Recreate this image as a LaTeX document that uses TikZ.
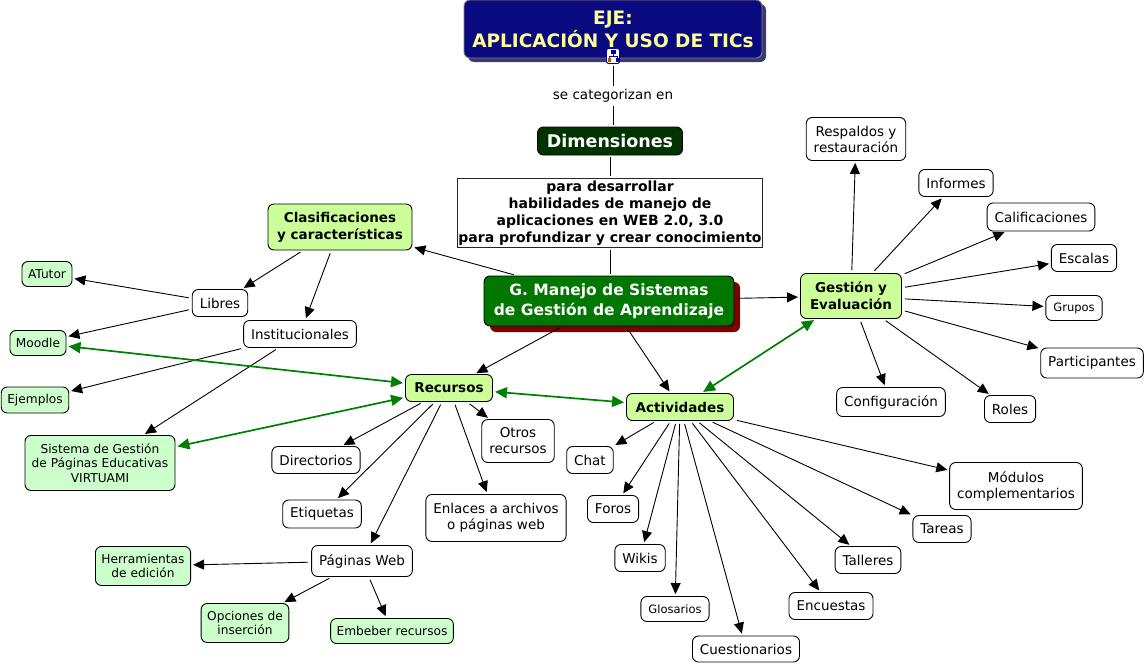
\documentclass[tikz,border=0pt]{standalone}
\usepackage{fontspec}
\setmainfont{DejaVu Sans}
\usetikzlibrary{arrows.meta, shadows}

\definecolor{ejeblue}{HTML}{0A0A80}
\definecolor{ejeshadow}{HTML}{3A3A6E}
\definecolor{ejetext}{HTML}{FFFF99}
\definecolor{dimgreen}{HTML}{003300}
\definecolor{mangreen}{HTML}{007700}
\definecolor{manshadow}{HTML}{800000}
\definecolor{keygreen}{HTML}{CCFF99}
\definecolor{leafgreen}{HTML}{CCFFCC}
\definecolor{linkgreen}{HTML}{008000}

\begin{document}
\begin{tikzpicture}[x=1pt, y=-1pt, line width=0.9pt,
  concept/.style={draw, rounded corners=6pt, fill=white, align=center, inner xsep=7.5pt, inner ysep=2pt, minimum height=27pt, font=\fontsize{13.5}{16}\selectfont},
  keyconcept/.style={concept, fill=keygreen, font=\fontsize{13.5}{17}\selectfont\bfseries},
  leaf/.style={concept, fill=leafgreen, minimum height=25pt, inner xsep=6pt, font=\fontsize{12.2}{14.5}\selectfont},
  small/.style={concept, minimum height=25pt, font=\fontsize{11.5}{13}\selectfont},
  link/.style={-{Triangle[length=11pt,width=10pt]}, shorten <=3pt, shorten >=2pt},
  crosslink/.style={{Triangle[length=12pt,width=11pt]}-{Triangle[length=12pt,width=11pt]}, linkgreen, line width=1.7pt, shorten <=2pt, shorten >=2pt},
  phrase/.style={shorten <=2pt, shorten >=2pt}
]
\useasboundingbox (0,0) rectangle (1148,664);
% Top of the map
\node[draw=black!50, fill=ejeblue, text=ejetext, rounded corners=6pt, minimum width=298pt, minimum height=58pt, align=center,
  font=\fontsize{18.5}{23}\selectfont\bfseries,
  drop shadow={shadow xshift=4pt, shadow yshift=-4pt, fill=ejeshadow, opacity=1}] (eje) at (613,29) {EJE:\\APLICACIÓN Y USO DE TICs};
\node[draw=blue!70!black, fill=white, rounded corners=1.5pt, minimum width=13pt, minimum height=15pt, inner sep=0pt, line width=0.8pt] (icon) at (613,56) {};
\fill[blue!70!black] (610.5,50) rectangle (615.5,53.5);
\draw[blue!70!black, line width=0.6pt] (613,53.5) -- (613,56) (609,56) -- (617,56) (609,56) -- (609,58) (617,56) -- (617,58);
\fill[orange!70!black] (607.5,58) rectangle (610.5,61.5);
\fill[blue!70!black] (615.5,58) rectangle (618.5,61.5);
\node[font=\fontsize{13.5}{16}\selectfont, inner sep=1pt] (cat) at (613,96) {se categorizan en};
\node[draw=black, fill=dimgreen, text=white, rounded corners=6pt, minimum width=145pt, minimum height=28pt,
  font=\fontsize{17.5}{20}\selectfont\bfseries] (dim) at (610,141) {Dimensiones};
\node[draw=black!85, line width=1.5pt, fill=white, align=center, minimum width=305pt, minimum height=69pt, inner sep=1pt,
  font=\fontsize{14}{16.8}\selectfont\bfseries] (para) at (610,213) {para desarrollar\\habilidades de manejo de\\aplicaciones en WEB 2.0, 3.0\\para profundizar y crear conocimiento};
\node[draw=black, fill=mangreen, text=white, rounded corners=6pt, minimum width=250pt, minimum height=50pt, align=center,
  font=\fontsize{15.5}{20}\selectfont\bfseries,
  drop shadow={shadow xshift=6pt, shadow yshift=-6pt, fill=manshadow, opacity=1}] (g) at (609,301) {G. Manejo de Sistemas\\de Gestión de Aprendizaje};
% Key concepts
\node[keyconcept, minimum width=144pt, minimum height=46pt] (clasif) at (340,227) {Clasificaciones\\y características};
\node[keyconcept, minimum width=87pt] (recursos) at (449,388) {Recursos};
\node[keyconcept, minimum width=107pt] (activ) at (680,407) {Actividades};
\node[keyconcept, minimum width=101pt, minimum height=45pt] (gestion) at (851,296) {Gestión y\\Evaluación};
% Clasificaciones
\node[concept] (libres) at (220,303) {Libres};
\node[concept] (inst) at (300,334) {Institucionales};
\node[leaf] (atutor) at (47,274) {ATutor};
\node[leaf] (moodle) at (38,343) {Moodle};
\node[leaf, minimum height=26pt] (ejemplos) at (35,400) {Ejemplos};
\node[leaf, minimum width=150pt, minimum height=55pt] (sistema) at (100,463) {Sistema de Gestión\\de Páginas Educativas\\VIRTUAMI};
% Recursos
\node[concept] (direct) at (316,460) {Directorios};
\node[concept, minimum height=28pt] (etiq) at (322,514) {Etiquetas};
\node[concept, minimum height=31pt] (paginas) at (362,561) {Páginas Web};
\node[concept, minimum height=43pt] (otros) at (518,441) {Otros\\recursos};
\node[concept, minimum height=47pt] (enlaces) at (496,518) {Enlaces a archivos\\o páginas web};
\node[leaf, minimum height=39pt] (herram) at (143,566) {Herramientas\\de edición};
\node[leaf, minimum height=39pt] (opciones) at (245,623) {Opciones de\\inserción};
\node[leaf] (embeber) at (392,631) {Embeber recursos};
% Actividades
\node[concept] (chat) at (590,460) {Chat};
\node[concept] (foros) at (613,509) {Foros};
\node[concept] (wikis) at (640,558) {Wikis};
\node[small] (glosarios) at (675,609) {Glosarios};
\node[concept, minimum height=26pt] (cuest) at (746,649) {Cuestionarios};
\node[concept] (encuestas) at (831,606) {Encuestas};
\node[concept] (talleres) at (868,560) {Talleres};
\node[concept] (tareas) at (942,529) {Tareas};
\node[concept, minimum height=47pt] (modulos) at (1016,486) {Módulos\\complementarios};
% Gestion y Evaluacion
\node[concept, minimum height=29pt] (config) at (891,402) {Configuración};
\node[concept] (roles) at (1010,409) {Roles};
\node[concept, minimum height=30pt] (partic) at (1092,363) {Participantes};
\node[small] (grupos) at (1074,308) {Grupos};
\node[concept] (escalas) at (1084,258) {Escalas};
\node[concept, minimum height=28pt] (calif) at (1041,217) {Calificaciones};
\node[concept] (informes) at (956,183) {Informes};
\node[concept, minimum height=43pt] (respaldos) at (856,139) {Respaldos y\\restauración};
% Linking lines without tips
\draw[phrase] (icon) -- (cat);
\draw[phrase] (cat) -- (cat |- dim.north);
\draw[phrase] (dim) -- (para);
\draw[phrase] (para) -- (para |- g.north);
% Links with tips
\draw[link] (g) -- (clasif);
\draw[link] (g) -- (gestion);
\draw[link] (g) -- (recursos);
\draw[link] (g) -- (activ);
\draw[link] (clasif) -- (libres);
\draw[link] (clasif) -- (inst);
\draw[link] (libres) -- (atutor);
\draw[link] (libres) -- (moodle);
\draw[link] (inst) -- (ejemplos);
\draw[link] (inst) -- (sistema);
\foreach \t in {direct, etiq, paginas, enlaces, otros}
  \draw[link] (recursos) -- (\t);
\foreach \t in {herram, opciones, embeber}
  \draw[link] (paginas) -- (\t);
\foreach \t in {chat, foros, wikis, glosarios, cuest, encuestas, talleres, tareas, modulos}
  \draw[link] (activ) -- (\t);
\foreach \t in {respaldos, informes, calif, escalas, grupos, partic, roles, config}
  \draw[link] (gestion) -- (\t);
% Cross links
\draw[crosslink] (moodle) -- (recursos);
\draw[crosslink] (sistema) -- (recursos);
\draw[crosslink] (recursos) -- (activ);
\draw[crosslink] (activ) -- (gestion);
\end{tikzpicture}
\end{document}
